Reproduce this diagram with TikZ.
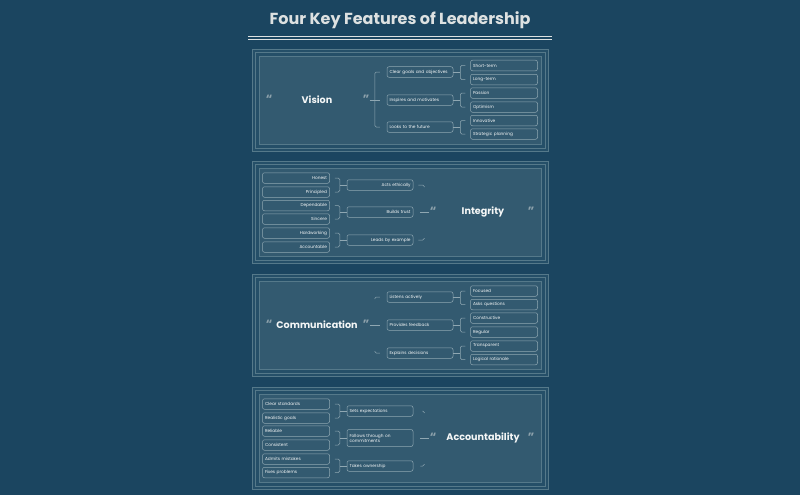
\documentclass[tikz,border=0pt]{standalone}
\usepackage{fontspec}
\setmainfont{Poppins}
\usetikzlibrary{calc}
\definecolor{bg}{HTML}{1B4560}
\definecolor{band}{HTML}{254F68}
\definecolor{panelfill}{HTML}{335A70}
\definecolor{frame}{HTML}{55798A}
\definecolor{edge}{HTML}{8FA7B2}
\definecolor{fg}{HTML}{F5F7F7}
\definecolor{quote}{HTML}{8EA2AC}
\definecolor{titlecol}{HTML}{DDE1E1}
\tikzset{
  box/.style={draw=edge, line width=0.5pt, rounded corners=2pt, inner xsep=2.5pt,
    inner ysep=0pt, minimum height=10.5pt, text=fg, font=\fontsize{4.3}{5}\selectfont},
  leafL/.style={box, text width=62pt, align=left},
  leafR/.style={box, text width=62pt, align=right},
  branchL/.style={box, text width=61pt, align=left},
  branchR/.style={box, text width=61pt, align=right},
  hub/.style={text=fg, font=\fontsize{9.6}{11}\selectfont\bfseries, inner sep=0pt},
  qmark/.style={text=quote, font=\fontsize{12}{12}\selectfont\bfseries, inner sep=0.5pt, yshift=1.2pt},
  conn/.style={draw=edge, line width=0.5pt, rounded corners=1.5pt},
  framebox/.style={draw=frame, line width=0.6pt},
}
\begin{document}
\begin{tikzpicture}[x=1pt,y=-1pt]
\fill[bg] (0,0) rectangle (800,495);
\useasboundingbox (0,0) rectangle (800,495);

% title and rule
\node[text=titlecol, font=\fontsize{16}{18}\selectfont\bfseries] (title) at (400,20) {Four Key Features of Leadership};
\draw[titlecol, line width=0.9pt] (248,36.5) -- (552,36.5);
\draw[titlecol, line width=0.9pt] (248,39.5) -- (552,39.5);

% panel frames
\foreach \t in {49,161,274,387}{
  \draw[framebox, fill=band] (252,\t) rectangle (548,\t+102);
  \draw[framebox] (255,\t+3) rectangle (545,\t+99);
  \draw[framebox, fill=panelfill] (259,\t+7) rectangle (541,\t+95);
}

% ---------------- Vision ----------------
\node[qmark] (vqo) at (269,100) {“};
\node[hub] (vis) at (317,100) {Vision};
\node[qmark] (vqc) at (366,100) {”};
\node[branchL] (v1) at (420,72) {Clear goals and objectives};
\node[branchL] (v2) at (420,100) {Inspires and motivates};
\node[branchL] (v3) at (420,127) {Looks to the future};
\node[leafL] (v11) at (504,65.5) {Short-term};
\node[leafL] (v12) at (504,79.5) {Long-term};
\node[leafL] (v21) at (504,93) {Passion};
\node[leafL] (v22) at (504,107) {Optimism};
\node[leafL] (v31) at (504,120.5) {Innovative};
\node[leafL] (v32) at (504,134) {Strategic planning};
\draw[conn] (vqc.east |- vis) -- ([xshift=-7pt]v2.west);
\draw[conn] ([xshift=-7pt]v1.west) -- ++(-5,0) |- ([xshift=-7pt]v3.west);
\foreach \b/\a/\c in {v1/v11/v12, v2/v21/v22, v3/v31/v32}{
  \draw[conn] (\b.east) -- ++(7,0);
  \draw[conn] ([xshift=-5pt]\a.west) -- ++(-5,0) |- ([xshift=-5pt]\c.west);
}

% ---------------- Integrity ----------------
\node[qmark] (iqo) at (433,212) {“};
\node[hub] (integ) at (483,212) {Integrity};
\node[qmark] (iqc) at (531,212) {”};
\node[branchR] (i1) at (380,185) {Acts ethically};
\node[branchR] (i2) at (380,212) {Builds trust};
\node[branchR] (i3) at (380,240) {Leads by example};
\node[leafR] (i11) at (296,178) {Honest};
\node[leafR] (i12) at (296,192) {Principled};
\node[leafR] (i21) at (296,205.5) {Dependable};
\node[leafR] (i22) at (296,219) {Sincere};
\node[leafR] (i31) at (296,233) {Hardworking};
\node[leafR] (i32) at (296,247) {Accountable};
\draw[conn] (iqo.west |- integ) -- ([xshift=7pt]i2.east);
\draw[conn] ([xshift=5pt]i1.east) -- ++(6,0) -- ++(0,2);
\draw[conn] ([xshift=5pt]i3.east) -- ++(6,0) -- ++(0,-2);
\foreach \b/\a/\c in {i1/i11/i12, i2/i21/i22, i3/i31/i32}{
  \draw[conn] (\b.west) -- ++(-7,0);
  \draw[conn] ([xshift=5pt]\a.east) -- ++(5,0) |- ([xshift=5pt]\c.east);
}

% ---------------- Communication ----------------
\node[qmark] (cqo) at (269,325) {“};
\node[hub] (comm) at (317,325) {Communication};
\node[qmark] (cqc) at (366,325) {”};
\node[branchL] (c1) at (420,297) {Listens actively};
\node[branchL] (c2) at (420,325) {Provides feedback};
\node[branchL] (c3) at (420,353) {Explains decisions};
\node[leafL] (c11) at (504,291) {Focused};
\node[leafL] (c12) at (504,304.5) {Asks questions};
\node[leafL] (c21) at (504,318) {Constructive};
\node[leafL] (c22) at (504,332) {Regular};
\node[leafL] (c31) at (504,346) {Transparent};
\node[leafL] (c32) at (504,359.5) {Logical rationale};
\draw[conn] (cqc.east |- comm) -- ([xshift=-7pt]c2.west);
\draw[conn] ([xshift=-7pt]c1.west) -- ++(-5,0) -- ++(0,2);
\draw[conn] ([xshift=-7pt]c3.west) -- ++(-5,0) -- ++(0,-2);
\foreach \b/\a/\c in {c1/c11/c12, c2/c21/c22, c3/c31/c32}{
  \draw[conn] (\b.east) -- ++(7,0);
  \draw[conn] ([xshift=-5pt]\a.west) -- ++(-5,0) |- ([xshift=-5pt]\c.west);
}

% ---------------- Accountability ----------------
\node[qmark] (aqo) at (433,438) {“};
\node[hub] (acc) at (483,438) {Accountability};
\node[qmark] (aqc) at (531,438) {”};
\node[branchL] (a1) at (380,411) {Sets expectations};
\node[branchL, minimum height=17pt] (a2) at (380,438) {Follows through on\\commitments};
\node[branchL] (a3) at (380,466) {Takes ownership};
\node[leafL] (a11) at (296,404) {Clear standards};
\node[leafL] (a12) at (296,418) {Realistic goals};
\node[leafL] (a21) at (296,431) {Reliable};
\node[leafL] (a22) at (296,445) {Consistent};
\node[leafL] (a31) at (296,459) {Admits mistakes};
\node[leafL] (a32) at (296,472.5) {Fixes problems};
\draw[conn] (aqo.west |- acc) -- ([xshift=7pt]a2.east);
\draw[conn] ([xshift=9pt]a1.east) -- ++(2,0) -- ++(0,1);
\draw[conn] ([xshift=7pt]a3.east) -- ++(4,0) -- ++(0,-2);
\foreach \b/\a/\c in {a1/a11/a12, a2/a21/a22, a3/a31/a32}{
  \draw[conn] (\b.west) -- ++(-7,0);
  \draw[conn] ([xshift=5pt]\a.east) -- ++(5,0) |- ([xshift=5pt]\c.east);
}
\end{tikzpicture}
\end{document}
